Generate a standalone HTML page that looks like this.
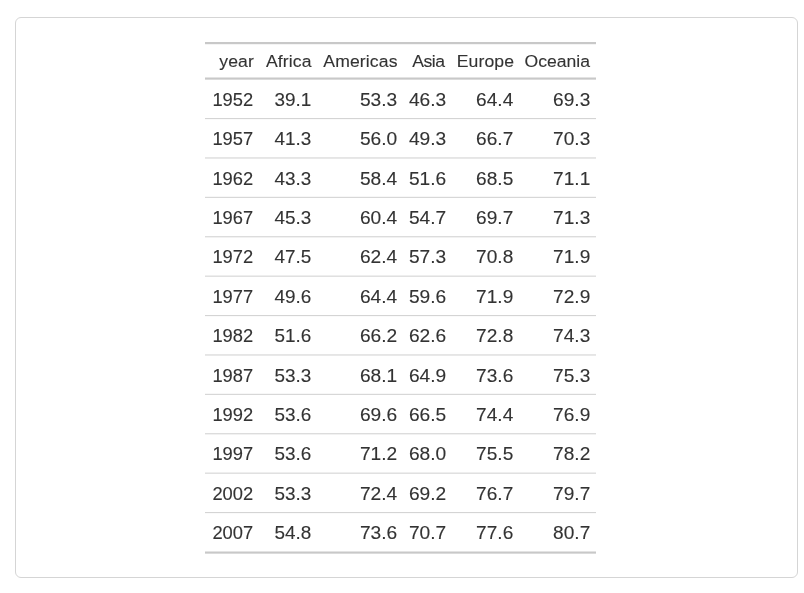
<!DOCTYPE html>
<html lang="en">
<head>
<meta charset="utf-8">
<title>Life expectancy by continent</title>
<style>
html,body{margin:0;padding:0;background:#fff;}
body{width:804px;height:593px;position:relative;overflow:hidden;font-family:"Liberation Sans",Arial,sans-serif;color:#333;}
.card{position:absolute;left:15px;top:17px;width:781px;height:559px;border:1px solid #d5d5d5;border-radius:6px;background:#fff;}
.rules{position:absolute;left:0;top:0;}
table,thead,tbody{display:block;margin:0;padding:0;border:0;}
.r{display:block;position:absolute;left:0;width:0;height:24px;line-height:24px;white-space:nowrap;}
.r th,.r td{display:block;position:absolute;top:0;margin:0;padding:0;border:0;font-weight:normal;text-align:right;transform-origin:100% 50%;-webkit-text-stroke:0.12px #333;}
.h{font-size:17.2px;}
.h th{transform:scaleX(1.0233);}
.b{font-size:17.6px;}
.h .c0{letter-spacing:0.12px}
.b .c0{letter-spacing:0.0px;transform:scaleX(1.0408)}
.h .c1{letter-spacing:0.12px}
.b .c1{letter-spacing:0.0px;transform:scaleX(1.075)}
.h .c2{letter-spacing:0.12px}
.b .c2{letter-spacing:0.0px;transform:scaleX(1.0897)}
.h .c3{letter-spacing:-0.5px}
.b .c3{letter-spacing:0.0px;transform:scaleX(1.0897)}
.h .c4{letter-spacing:0.12px}
.b .c4{letter-spacing:0.0px;transform:scaleX(1.0848)}
.h .c5{letter-spacing:0.0px}
.b .c5{letter-spacing:0.0px;transform:scaleX(1.0848)}
</style>
</head>
<body>
<div class="card"></div>

<svg class="rules" width="804" height="593" viewBox="0 0 804 593">
<rect x="205.00" y="42.00" width="391.00" height="2.20" fill="#c8c8c8"/>
<rect x="205.00" y="77.50" width="391.00" height="2.15" fill="#c8c8c8"/>
<rect x="205.00" y="118.00" width="391.00" height="1.12" fill="#d4d4d4"/>
<rect x="205.00" y="157.40" width="391.00" height="1.12" fill="#d4d4d4"/>
<rect x="205.00" y="196.80" width="391.00" height="1.12" fill="#d4d4d4"/>
<rect x="205.00" y="236.20" width="391.00" height="1.12" fill="#d4d4d4"/>
<rect x="205.00" y="275.60" width="391.00" height="1.12" fill="#d4d4d4"/>
<rect x="205.00" y="315.00" width="391.00" height="1.12" fill="#d4d4d4"/>
<rect x="205.00" y="354.40" width="391.00" height="1.12" fill="#d4d4d4"/>
<rect x="205.00" y="393.80" width="391.00" height="1.12" fill="#d4d4d4"/>
<rect x="205.00" y="433.20" width="391.00" height="1.12" fill="#d4d4d4"/>
<rect x="205.00" y="472.60" width="391.00" height="1.12" fill="#d4d4d4"/>
<rect x="205.00" y="512.00" width="391.00" height="1.12" fill="#d4d4d4"/>
<rect x="205.00" y="551.50" width="391.00" height="2.15" fill="#c8c8c8"/>
</svg>
<table class="gt_table">
<thead>
<tr class="r h" style="top:49.04px"><th class="c0" style="right:-253.72px">year</th><th class="c1" style="right:-311.42px">Africa</th><th class="c2" style="right:-397.42px">Americas</th><th class="c3" style="right:-444.50px">Asia</th><th class="c4" style="right:-514.12px">Europe</th><th class="c5" style="right:-589.80px">Oceania</th></tr>
</thead>
<tbody>
<tr class="r b" style="top:87.90px"><td class="c0" style="right:-253.60px">1952</td><td class="c1" style="right:-311.70px">39.1</td><td class="c2" style="right:-397.50px">53.3</td><td class="c3" style="right:-446.30px">46.3</td><td class="c4" style="right:-513.70px">64.4</td><td class="c5" style="right:-590.30px">69.3</td></tr>
<tr class="r b" style="top:126.90px"><td class="c0" style="right:-253.60px">1957</td><td class="c1" style="right:-311.70px">41.3</td><td class="c2" style="right:-397.50px">56.0</td><td class="c3" style="right:-446.30px">49.3</td><td class="c4" style="right:-513.70px">66.7</td><td class="c5" style="right:-590.30px">70.3</td></tr>
<tr class="r b" style="top:166.90px"><td class="c0" style="right:-253.60px">1962</td><td class="c1" style="right:-311.70px">43.3</td><td class="c2" style="right:-397.50px">58.4</td><td class="c3" style="right:-446.30px">51.6</td><td class="c4" style="right:-513.70px">68.5</td><td class="c5" style="right:-590.30px">71.1</td></tr>
<tr class="r b" style="top:205.90px"><td class="c0" style="right:-253.60px">1967</td><td class="c1" style="right:-311.70px">45.3</td><td class="c2" style="right:-397.50px">60.4</td><td class="c3" style="right:-446.30px">54.7</td><td class="c4" style="right:-513.70px">69.7</td><td class="c5" style="right:-590.30px">71.3</td></tr>
<tr class="r b" style="top:244.90px"><td class="c0" style="right:-253.60px">1972</td><td class="c1" style="right:-311.70px">47.5</td><td class="c2" style="right:-397.50px">62.4</td><td class="c3" style="right:-446.30px">57.3</td><td class="c4" style="right:-513.70px">70.8</td><td class="c5" style="right:-590.30px">71.9</td></tr>
<tr class="r b" style="top:284.90px"><td class="c0" style="right:-253.60px">1977</td><td class="c1" style="right:-311.70px">49.6</td><td class="c2" style="right:-397.50px">64.4</td><td class="c3" style="right:-446.30px">59.6</td><td class="c4" style="right:-513.70px">71.9</td><td class="c5" style="right:-590.30px">72.9</td></tr>
<tr class="r b" style="top:323.90px"><td class="c0" style="right:-253.60px">1982</td><td class="c1" style="right:-311.70px">51.6</td><td class="c2" style="right:-397.50px">66.2</td><td class="c3" style="right:-446.30px">62.6</td><td class="c4" style="right:-513.70px">72.8</td><td class="c5" style="right:-590.30px">74.3</td></tr>
<tr class="r b" style="top:363.90px"><td class="c0" style="right:-253.60px">1987</td><td class="c1" style="right:-311.70px">53.3</td><td class="c2" style="right:-397.50px">68.1</td><td class="c3" style="right:-446.30px">64.9</td><td class="c4" style="right:-513.70px">73.6</td><td class="c5" style="right:-590.30px">75.3</td></tr>
<tr class="r b" style="top:402.90px"><td class="c0" style="right:-253.60px">1992</td><td class="c1" style="right:-311.70px">53.6</td><td class="c2" style="right:-397.50px">69.6</td><td class="c3" style="right:-446.30px">66.5</td><td class="c4" style="right:-513.70px">74.4</td><td class="c5" style="right:-590.30px">76.9</td></tr>
<tr class="r b" style="top:441.90px"><td class="c0" style="right:-253.60px">1997</td><td class="c1" style="right:-311.70px">53.6</td><td class="c2" style="right:-397.50px">71.2</td><td class="c3" style="right:-446.30px">68.0</td><td class="c4" style="right:-513.70px">75.5</td><td class="c5" style="right:-590.30px">78.2</td></tr>
<tr class="r b" style="top:481.90px"><td class="c0" style="right:-253.60px">2002</td><td class="c1" style="right:-311.70px">53.3</td><td class="c2" style="right:-397.50px">72.4</td><td class="c3" style="right:-446.30px">69.2</td><td class="c4" style="right:-513.70px">76.7</td><td class="c5" style="right:-590.30px">79.7</td></tr>
<tr class="r b" style="top:520.90px"><td class="c0" style="right:-253.60px">2007</td><td class="c1" style="right:-311.70px">54.8</td><td class="c2" style="right:-397.50px">73.6</td><td class="c3" style="right:-446.30px">70.7</td><td class="c4" style="right:-513.70px">77.6</td><td class="c5" style="right:-590.30px">80.7</td></tr>
</tbody>
</table>
</body>
</html>
